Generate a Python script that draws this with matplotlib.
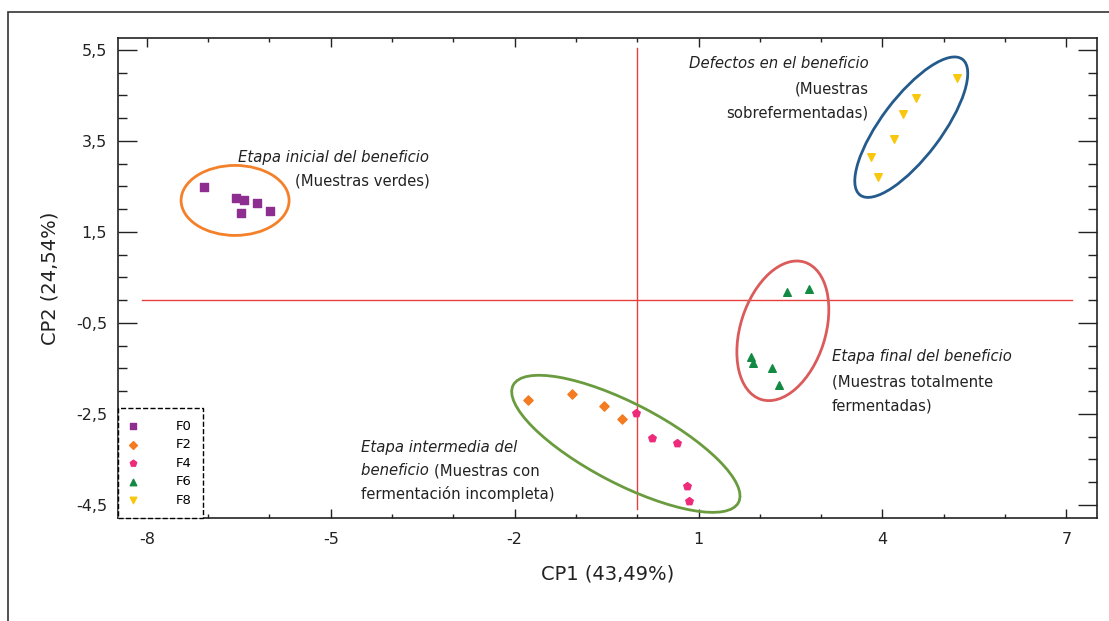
import matplotlib
matplotlib.use("Agg")
import matplotlib.pyplot as plt
from matplotlib.patches import Ellipse, Rectangle
from matplotlib.ticker import MultipleLocator, FixedLocator, FixedFormatter
import matplotlib.transforms as mtransforms

plt.rcParams['font.family'] = ['DejaVu Sans']

# PCA scores
f0_x = [-7.07, -6.55, -6.42, -6.21, -6.47, -5.99]
f0_y = [2.49, 2.25, 2.20, 2.14, 1.92, 1.96]
f2_x = [-1.78, -1.07, -0.54, -0.25]
f2_y = [-2.19, -2.06, -2.32, -2.61]
f4_x = [-0.02, 0.24, 0.65, 0.81, 0.84]
f4_y = [-2.48, -3.03, -3.14, -4.08, -4.41]
f6_x = [2.44, 2.80, 1.85, 1.89, 2.20, 2.31]
f6_y = [0.18, 0.25, -1.25, -1.38, -1.49, -1.86]
f8_x = [5.21, 4.54, 4.33, 4.19, 3.81, 3.92]
f8_y = [4.88, 4.45, 4.09, 3.54, 3.15, 2.71]

xticks = [-8, -5, -2, 1, 4, 7]
xtick_labels = ["-8", "-5", "-2", "1", "4", "7"]
yticks = [5.5, 3.5, 1.5, -0.5, -2.5, -4.5]
ytick_labels = ["5,5", "3,5", "1,5", "-0,5", "-2,5", "-4,5"]

fig = plt.figure(figsize=(11.09, 6.21), dpi=100)
ax = fig.add_axes([0.1064, 0.1659, 0.8828, 0.7729])

# outer frame of the original figure (only top and left visible)
fig.patches.append(Rectangle((8 / 1109, -0.1), 1.2, (621 - 12) / 621 + 0.1,
                             transform=fig.transFigure, fill=False,
                             edgecolor="#333333", linewidth=1.2))

ax.set_xlim(-8.47, 7.5)
ax.set_ylim(-4.79, 5.76)

# reference lines through the origin
ax.plot([0, 0], [-4.6, 5.54], color="#e8403c", linewidth=1.0, zorder=1)
ax.plot([-8.08, 7.09], [0, 0], color="#e8403c", linewidth=1.0, zorder=1)

ax.scatter(f0_x, f0_y, marker="s", s=26, color="#8e2e91", label="F0", zorder=3)
ax.scatter(f2_x, f2_y, marker="D", s=22, color="#f47b20", label="F2", zorder=3)
ax.scatter(f4_x, f4_y, marker="p", s=32, color="#ee2b7b", label="F4", zorder=3)
ax.scatter(f6_x, f6_y, marker="^", s=30, color="#138a43", label="F6", zorder=3)
ax.scatter(f8_x, f8_y, marker="v", s=30, color="#f9c80e", label="F8", zorder=3)

# group ellipses: centre in data units, size in inches on the page
groups = [
    ((-6.56, 2.19), 1.08, 0.70, 0, "#f4812a"),
    ((4.47, 3.80), 1.70, 0.60, 53, "#245b8c"),
    ((2.375, -0.676), 1.44, 0.85, 72.4, "#db5b5b"),
    ((-0.186, -3.16), 2.54, 0.80, -27.5, "#6a9c3f"),
]
for (cx, cy), w, h, ang, col in groups:
    tr = fig.dpi_scale_trans + mtransforms.ScaledTranslation(cx, cy, ax.transData)
    ax.add_patch(Ellipse((0, 0), w, h, angle=ang, transform=tr, fill=False,
                         edgecolor=col, linewidth=2.0, zorder=2))

fs = 10.7
col_t = "#222222"
ax.text(-3.39, 3.13, "Etapa inicial del beneficio", style="italic", ha="right", va="center", fontsize=fs, color=col_t)
ax.text(-3.39, 2.62, "(Muestras verdes)", ha="right", va="center", fontsize=fs, color=col_t)

ax.text(3.775, 5.19, "Defectos en el beneficio", style="italic", ha="right", va="center", fontsize=fs, color=col_t)
ax.text(3.775, 4.64, "(Muestras", ha="right", va="center", fontsize=fs, color=col_t)
ax.text(3.775, 4.12, "sobrefermentadas)", ha="right", va="center", fontsize=fs, color=col_t)

ax.text(3.17, -1.25, "Etapa final del beneficio", style="italic", ha="left", va="center", fontsize=fs, color=col_t)
ax.text(3.17, -1.80, "(Muestras totalmente", ha="left", va="center", fontsize=fs, color=col_t)
ax.text(3.17, -2.32, "fermentadas)", ha="left", va="center", fontsize=fs, color=col_t)

ax.text(-4.50, -3.25, "Etapa intermedia del", style="italic", ha="left", va="center", fontsize=fs, color=col_t)
t1 = ax.text(-4.50, -3.75, "beneficio ", style="italic", ha="left", va="center", fontsize=fs, color=col_t)
ax.annotate("(Muestras con", xy=(1, 0.5), xycoords=t1, ha="left", va="center", fontsize=fs, color=col_t)
ax.text(-4.50, -4.26, "fermentación incompleta)", ha="left", va="center", fontsize=fs, color=col_t)

ax.xaxis.set_major_locator(FixedLocator(xticks))
ax.xaxis.set_major_formatter(FixedFormatter(xtick_labels))
ax.xaxis.set_minor_locator(MultipleLocator(1))
ax.yaxis.set_major_locator(FixedLocator(yticks))
ax.yaxis.set_major_formatter(FixedFormatter(ytick_labels))
ax.yaxis.set_minor_locator(MultipleLocator(0.5))

ax.tick_params(axis="both", which="both", direction="in", top=True, right=True, colors="#222222")
ax.tick_params(axis="x", which="major", length=6.5, width=1.0, pad=10, labelsize=11.5)
ax.tick_params(axis="x", which="minor", length=3, width=1.0)
ax.tick_params(axis="y", which="major", length=14, width=1.0, pad=8, labelsize=11.5)
ax.tick_params(axis="y", which="minor", length=6.5, width=1.0)
for sp in ax.spines.values():
    sp.set_linewidth(1.2)
    sp.set_color("#222222")

ax.set_xlabel("CP1 (43,49%)", fontsize=14, labelpad=13, color="#222222")
ax.set_ylabel("CP2 (24,54%)", fontsize=14, labelpad=12, color="#222222")

leg = ax.legend(loc="lower left", borderaxespad=0, fontsize=9.5, frameon=True,
                fancybox=False, handlelength=0.6, handletextpad=2.9,
                labelspacing=0.42, borderpad=0.85, scatterpoints=1, markerscale=0.85)
frame = leg.get_frame()
frame.set_linestyle("--")
frame.set_edgecolor("black")
frame.set_linewidth(1.0)
frame.set_alpha(1)

fig.savefig("out.png", dpi=100)
